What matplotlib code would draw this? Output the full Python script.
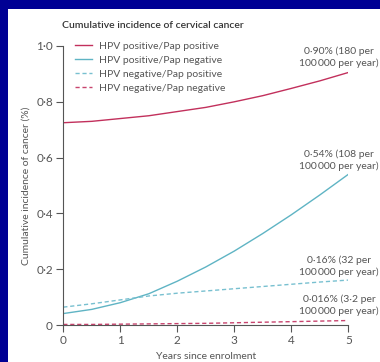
import matplotlib
matplotlib.use("Agg")
import matplotlib.pyplot as plt
from matplotlib.patches import Rectangle

plt.rcParams['font.family'] = ['Lato', 'DejaVu Sans']

# Data
years = [0, 0.5, 1, 1.5, 2, 2.5, 3, 3.5, 4, 4.5, 5]
hpv_pos_pap_pos = [0.725, 0.730, 0.740, 0.750, 0.765, 0.780, 0.800, 0.822, 0.848, 0.875, 0.905]
hpv_pos_pap_neg = [0.041, 0.056, 0.080, 0.112, 0.157, 0.208, 0.265, 0.328, 0.395, 0.466, 0.540]
hpv_neg_pap_pos = [0.064, 0.076, 0.090, 0.104, 0.114, 0.122, 0.130, 0.138, 0.146, 0.154, 0.161]
hpv_neg_pap_neg = [0.002, 0.002, 0.003, 0.004, 0.005, 0.006, 0.008, 0.010, 0.012, 0.014, 0.016]

labels = ["HPV positive/Pap positive", "HPV positive/Pap negative",
          "HPV negative/Pap positive", "HPV negative/Pap negative"]
end_notes = ["0\u00b790% (180 per\n100\u2009000 per year)",
             "0\u00b754% (108 per\n100\u2009000 per year)",
             "0\u00b716% (32 per\n100\u2009000 per year)",
             "0\u00b7016% (3\u00b72 per\n100\u2009000 per year)"]
note_y = [0.959, 0.590, 0.211, 0.072]
xticks = [0, 1, 2, 3, 4, 5]
yticks = [0, 0.2, 0.4, 0.6, 0.8, 1.0]
yticklabels = ["0", "0\u00b72", "0\u00b74", "0\u00b76", "0\u00b78", "1\u00b70"]

RED = "#c2305c"
TEAL = "#5fb4c4"
TEAL_L = "#78c0d0"
RED_D = "#c8446e"
TXT = "#555555"

W, H = 380, 362
fig = plt.figure(figsize=(W / 100, H / 100), dpi=100, facecolor="#000094")
fig.patches.append(Rectangle((8 / W, 0), 1, 1 - 9 / H, transform=fig.transFigure,
                             facecolor="white", edgecolor="none", zorder=-10))

ax = fig.add_axes([63.3 / W, 37 / H, 285 / W, 279 / H])
ax.set_facecolor("none")
ax.set_zorder(5)

ax.plot(years, hpv_pos_pap_pos, color=RED, lw=1.0, label=labels[0])
ax.plot(years, hpv_pos_pap_neg, color=TEAL, lw=1.0, label=labels[1])
ax.plot(years, hpv_neg_pap_pos, color=TEAL_L, lw=1.0, ls=(0, (3, 2)), label=labels[2])
ax.plot(years, hpv_neg_pap_neg, color=RED_D, lw=1.0, ls=(0, (3, 2)), label=labels[3])

ax.set_xlim(0, 5)
ax.set_ylim(0, 1.0)
ax.set_xticks(xticks)
ax.set_yticks(yticks)
ax.set_yticklabels(yticklabels)
for s in ["top", "right"]:
    ax.spines[s].set_visible(False)
for s in ["left", "bottom"]:
    ax.spines[s].set_color("#555555")
    ax.spines[s].set_linewidth(0.8)
ax.tick_params(colors="#555555", labelcolor=TXT, labelsize=8.5, width=0.8, length=5, pad=2.5)

ax.set_xlabel("Years since enrolment", fontsize=7.5, color=TXT, labelpad=4)
ax.set_ylabel("Cumulative incidence of cancer (%)", fontsize=7.5, color=TXT, labelpad=4)

leg = ax.legend(loc="upper left", bbox_to_anchor=(0.04, 1.015), frameon=False,
                fontsize=7.5, handlelength=1.7, handletextpad=0.6, labelspacing=0.45,
                borderpad=0, borderaxespad=0)
for t in leg.get_texts():
    t.set_color(TXT)

for txt, y in zip(end_notes, note_y):
    ax.text(4.84, y, txt, ha="center", va="center", fontsize=7.5, color=TXT,
            linespacing=1.3)

fig.text(62 / W, 1 - 25 / H, "Cumulative incidence of cervical cancer", fontsize=7.5,
         fontweight="semibold", color="#333333", ha="left", va="center")

fig.savefig("out.png", dpi=100, facecolor=fig.get_facecolor())
